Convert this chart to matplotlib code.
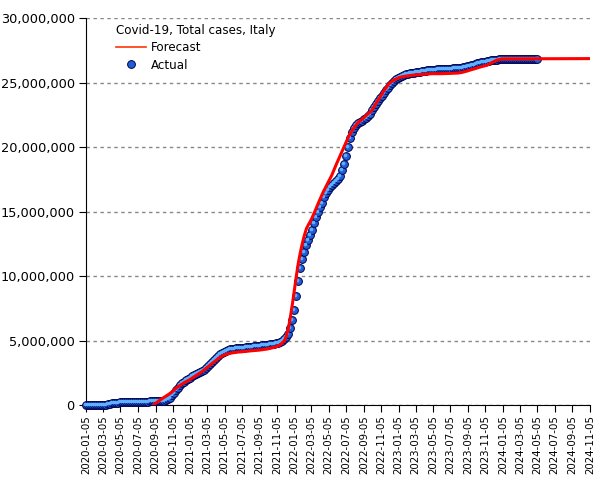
import numpy as np
import pandas as pd
import matplotlib
matplotlib.use('Agg')
import matplotlib.pyplot as plt
import matplotlib.dates as mdates
from matplotlib.lines import Line2D
from matplotlib.ticker import FuncFormatter
from matplotlib.transforms import offset_copy

plt.rcParams['font.family'] = 'DejaVu Sans'

# actual cumulative cases (millions), weekly from 2020-01-05
actual_start = '2020-01-05'
actual_mil = [
    # 2020
    0.0, 0.0, 0.0, 0.0,
    0.0, 0.0, 0.0, 0.0,
    0.01, 0.02, 0.04, 0.06, 0.1,
    0.13, 0.16, 0.18, 0.2,
    0.21, 0.22, 0.23, 0.235, 0.24,
    0.245, 0.25, 0.25, 0.255,
    0.26, 0.26, 0.265, 0.27,
    0.275, 0.28, 0.285, 0.29, 0.295,
    0.3, 0.31, 0.32, 0.33,
    0.35, 0.39, 0.46, 0.58,
    0.75, 0.95, 1.15, 1.35, 1.55,
    1.7, 1.82, 1.93, 2.02,
    # 2021
    2.12, 2.22, 2.32, 2.4, 2.48,
    2.56, 2.64, 2.73, 2.85,
    3.0, 3.15, 3.32, 3.5,
    3.65, 3.8, 3.93, 4.04,
    4.13, 4.2, 4.27, 4.32, 4.36,
    4.39, 4.41, 4.43, 4.44,
    4.45, 4.46, 4.48, 4.5,
    4.52, 4.54, 4.56, 4.58, 4.6,
    4.62, 4.64, 4.66, 4.68,
    4.7, 4.72, 4.74, 4.77, 4.8,
    4.85, 4.92, 5.0, 5.12,
    5.28, 5.55, 6.0, 6.6,
    # 2022
    7.4, 8.5, 9.6, 10.6, 11.3,
    11.9, 12.4, 12.8, 13.2,
    13.6, 14.1, 14.6, 15.0,
    15.35, 15.7, 16.1, 16.45,
    16.7, 16.9, 17.05, 17.2, 17.35,
    17.55, 17.8, 18.2, 18.7,
    19.3, 20.0, 20.7, 21.2, 21.5,
    21.7, 21.85, 21.95, 22.05,
    22.15, 22.25, 22.4, 22.6,
    22.85, 23.1, 23.35, 23.6, 23.8,
    24.0, 24.2, 24.4, 24.6,
    24.8, 25.0, 25.15, 25.3,
    # 2023
    25.4, 25.48, 25.55, 25.6, 25.64,
    25.68, 25.72, 25.76, 25.79,
    25.82, 25.85, 25.87, 25.9,
    25.92, 25.94, 25.96, 25.97, 25.99,
    26.0, 26.02, 26.03, 26.04,
    26.05, 26.06, 26.07, 26.08,
    26.09, 26.1, 26.11, 26.12, 26.13,
    26.15, 26.17, 26.2, 26.23,
    26.27, 26.31, 26.35, 26.4,
    26.45, 26.5, 26.55, 26.58, 26.61,
    26.64, 26.67, 26.7, 26.73,
    26.76, 26.78, 26.8, 26.81, 26.82,
    # 2024
    26.83, 26.83, 26.84, 26.84,
    26.84, 26.85, 26.85, 26.85,
    26.85, 26.85, 26.85, 26.85, 26.85,
    26.85, 26.85, 26.85, 26.85,
    26.85,
]

# forecast curve (millions)
forecast_dates = [
    '2020-08-28', '2020-09-15', '2020-10-01', '2020-10-15', '2020-11-01', '2020-11-15',
    '2020-12-01', '2020-12-15', '2021-01-01', '2021-01-15', '2021-02-01', '2021-02-15',
    '2021-03-01', '2021-03-15', '2021-04-01', '2021-04-15', '2021-05-01', '2021-05-15',
    '2021-06-01', '2021-06-15', '2021-07-01', '2021-07-15', '2021-08-01', '2021-08-15',
    '2021-09-01', '2021-09-15', '2021-10-01', '2021-10-15', '2021-11-01', '2021-11-15',
    '2021-12-01', '2021-12-08', '2021-12-15', '2021-12-22', '2021-12-29', '2022-01-05',
    '2022-01-12', '2022-01-19', '2022-01-26', '2022-02-02', '2022-02-09', '2022-02-16',
    '2022-02-23', '2022-03-05', '2022-03-15', '2022-04-01', '2022-04-15', '2022-05-01',
    '2022-05-15', '2022-06-01', '2022-06-15', '2022-07-01', '2022-07-15', '2022-08-01',
    '2022-08-15', '2022-09-01', '2022-09-15', '2022-10-01', '2022-10-15', '2022-11-01',
    '2022-11-15', '2022-12-01', '2022-12-15', '2023-01-01', '2023-01-15', '2023-02-01',
    '2023-03-01', '2023-04-01', '2023-05-01', '2023-06-01', '2023-07-01', '2023-08-01',
    '2023-08-15', '2023-09-01', '2023-09-15', '2023-10-01', '2023-10-15', '2023-11-01',
    '2023-11-15', '2023-12-01', '2023-12-15', '2024-01-01', '2024-11-05',
]
forecast_mil = [
    0.0, 0.3, 0.55, 0.75, 1.0, 1.3,
    1.55, 1.75, 1.95, 2.15, 2.4, 2.6,
    2.85, 3.1, 3.4, 3.65, 3.85, 3.97,
    4.05, 4.1, 4.13, 4.16, 4.2, 4.23,
    4.26, 4.3, 4.35, 4.42, 4.52, 4.65,
    5.0, 5.4, 6.0, 6.9, 7.9, 9.0,
    10.1, 11.1, 11.9, 12.6, 13.2, 13.7,
    14.0, 14.4, 14.9, 15.8, 16.5, 17.2,
    17.8, 18.7, 19.4, 20.2, 20.9, 21.5,
    21.9, 22.2, 22.5, 22.8, 23.3, 23.9,
    24.4, 24.9, 25.15, 25.35, 25.45, 25.52,
    25.6, 25.65, 25.7, 25.7, 25.72, 25.75,
    25.8, 25.9, 26.0, 26.1, 26.2, 26.3,
    26.4, 26.6, 26.75, 26.85, 26.87,
]

x_start, x_end = '2020-01-05', '2024-11-05'
y_max = 30_000_000

act_x = pd.date_range(actual_start, periods=len(actual_mil), freq='7D')
act_y = np.array(actual_mil) * 1e6
fc_x = pd.to_datetime(forecast_dates)
fc_y = np.array(forecast_mil) * 1e6

fig = plt.figure(figsize=(6.05, 4.8), dpi=100)
ax = fig.add_axes([0.142, 0.156, 0.833, 0.806])

# "sphere" markers: dark body + light highlight
ax.plot(act_x, act_y, 'o', ms=5.6, mfc='#1f5fd6', mec='#000050', mew=0.7,
        clip_on=False, zorder=3)
hl = offset_copy(ax.transData, fig=fig, x=-0.8, y=1.0, units='dots')
ax.plot(act_x, act_y, 'o', ms=2.6, mfc='#5fb0ff', mec='none', transform=hl,
        clip_on=False, zorder=4)

ax.plot(fc_x, fc_y, color='#ff0000', lw=2.2, zorder=5)

ax.set_xlim(pd.Timestamp(x_start), pd.Timestamp(x_end))
ax.set_ylim(0, y_max)
ax.set_yticks(np.arange(0, y_max + 1, 5_000_000))
ax.yaxis.set_major_formatter(FuncFormatter(lambda v, p: f'{v:,.0f}'))
ax.xaxis.set_major_locator(mdates.MonthLocator(bymonth=[1, 3, 5, 7, 9, 11], bymonthday=5))
ax.xaxis.set_major_formatter(mdates.DateFormatter('%Y-%m-%d'))
plt.setp(ax.get_xticklabels(), rotation=90)

ax.tick_params(axis='y', direction='out', length=5, labelsize=9.3, pad=3)
ax.tick_params(axis='x', direction='out', length=5, labelsize=7.4, pad=2)
ax.yaxis.grid(True, color='#888888', linestyle=(0, (2.5, 2.5)), lw=1)
ax.set_axisbelow(True)
for s in ['top', 'right']:
    ax.spines[s].set_visible(False)

handles = [
    Line2D([], [], color='#ff3300', lw=1.2),
    Line2D([], [], marker='o', ls='none', ms=5.6, mfc='#1f5fd6', mec='#000050', mew=0.7),
]
leg = ax.legend(handles, ['Forecast', 'Actual'], title='Covid-19, Total cases, Italy',
                loc='upper left', bbox_to_anchor=(0.043, 1.006), frameon=False,
                fontsize=8.6, title_fontsize=8.6, handlelength=2.5, handletextpad=0.4,
                labelspacing=0.35, alignment='left', borderaxespad=0.3)

fig.savefig('out.png', dpi=100)
